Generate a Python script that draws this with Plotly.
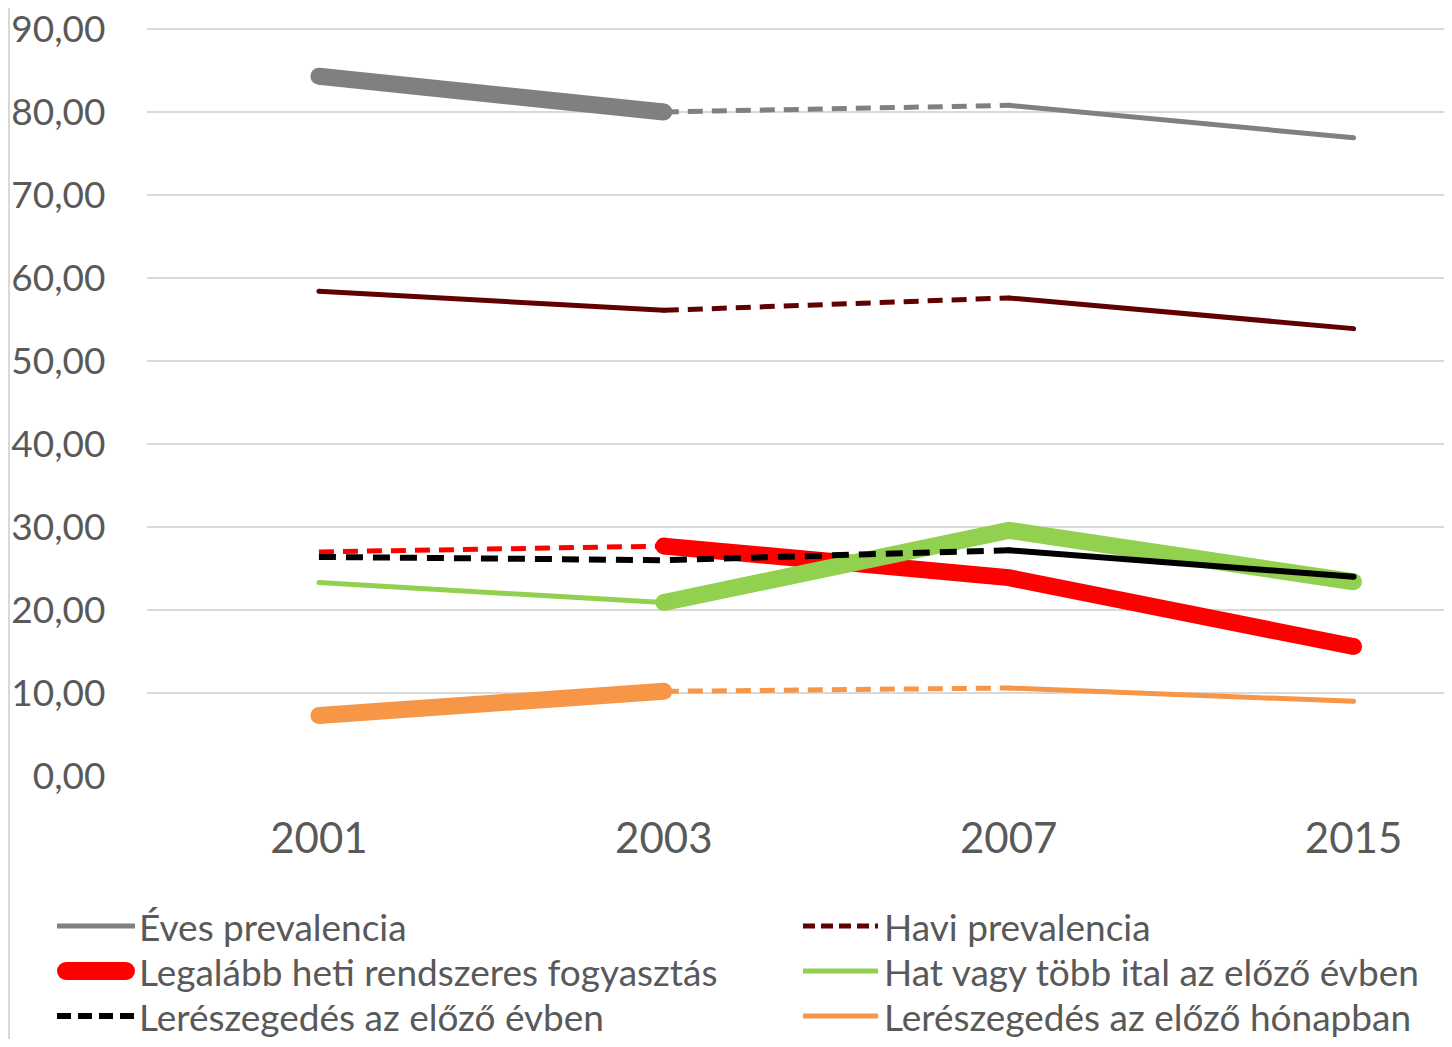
import plotly.graph_objects as go

# ── Data ─────────────────────────────────────────────────────────────────────
years = ["2001", "2003", "2007", "2015"]

eves_prevalencia = [84.3, 80.0, 80.8, 76.9]
havi_prevalencia = [58.4, 56.1, 57.6, 53.9]
heti_rendszeres = [27.0, 27.7, 23.9, 15.6]
hat_vagy_tobb = [23.3, 20.9, 29.6, 23.4]
lereszegedes_ev = [26.4, 26.0, 27.2, 24.0]
lereszegedes_honap = [7.3, 10.2, 10.6, 9.0]

series_names = [
    "Éves prevalencia",
    "Havi prevalencia",
    "Legalább heti rendszeres fogyasztás",
    "Hat vagy több ital az előző évben",
    "Lerészegedés az előző évben",
    "Lerészegedés az előző hónapban",
]
series_values = [eves_prevalencia, havi_prevalencia, heti_rendszeres,
                 hat_vagy_tobb, lereszegedes_ev, lereszegedes_honap]
y_ticks = list(range(0, 91, 10))

# ── Styles ───────────────────────────────────────────────────────────────────
COLORS = ["#808080", "#600000", "#FF0000", "#92D050", "#000000", "#F79646"]
THIN, THICK = 5, 17
DASH = "15px,9px"
DASH_B = "17px,10px"

# per-series style of each segment (2001-03, 2003-07, 2007-15)
SEG_STYLES = [
    [(THICK, "solid"), (THIN, DASH), (THIN, "solid")],
    [(THIN, "solid"), (THIN, DASH), (THIN, "solid")],
    [(THIN, DASH), (THICK, "solid"), (THICK, "solid")],
    [(THIN, "solid"), (THICK, "solid"), (THICK, "solid")],
    [(6, DASH_B), (6, DASH_B), (6, "solid")],
    [(THICK, "solid"), (THIN, DASH), (THIN, "solid")],
]
# legend sample: (width, dash)
LEG_STYLES = [(THIN, "solid"), (THIN, "12px,6px"), (18, "solid"),
              (THIN, "solid"), (6, "14px,7px"), (THIN, "solid")]

TXT = "#595959"
FONT = "Lato"

# page body adds an 8px offset; size the figure to fit inside the window
OFF = 8
FW, FH = 1452 - 2 * OFF, 1047 - 2 * OFF


def px(x):
    return (x - OFF) / FW


def py(y):
    return 1 - (y - OFF) / FH


fig = go.Figure()
xs = list(range(len(years)))

for name, vals, col, segs in zip(series_names, series_values, COLORS, SEG_STYLES):
    # merge consecutive segments with the same style into runs
    runs = []
    for i, st in enumerate(segs):
        if runs and runs[-1][0] == st:
            runs[-1][2] = i + 1
        else:
            runs.append([st, i, i + 1])
    for (w, dash), a, b in runs:
        fig.add_trace(go.Scatter(
            x=xs[a:b + 1], y=vals[a:b + 1], mode="lines",
            line=dict(color=col, width=w, dash=dash),
            showlegend=False, name=name, hoverinfo="skip",
        ))
        if dash == "solid":
            # round line caps
            fig.add_trace(go.Scatter(
                x=[xs[a], xs[b]], y=[vals[a], vals[b]], mode="markers",
                marker=dict(color=col, size=w, line=dict(width=0)),
                showlegend=False, hoverinfo="skip",
            ))

# ── Manual legend (2 columns x 3 rows) ───────────────────────────────────────
row_y = [926, 971, 1016]
col_x = [(57, 135, 137), (803, 878, 882)]
shapes, annots = [], []
for k, (name, col, (w, dash)) in enumerate(zip(series_names, COLORS, LEG_STYLES)):
    r, c = divmod(k, 2)
    x0, x1, tx = col_x[c]
    yp = py(row_y[r])
    cap = w / 2 if w > 10 else 0
    shapes.append(dict(type="line", xref="paper", yref="paper",
                       x0=px(x0 + cap), x1=px(x1 - cap), y0=yp, y1=yp,
                       line=dict(color=col, width=w, dash=dash)))
    if cap:
        for cx in (x0 + cap, x1 - cap):
            shapes.append(dict(type="circle", xref="paper", yref="paper",
                               x0=px(cx - cap), x1=px(cx + cap),
                               y0=py(row_y[r] + cap), y1=py(row_y[r] - cap),
                               fillcolor=col, line=dict(width=0)))
    annots.append(dict(text=name, xref="paper", yref="paper", x=px(tx), y=yp,
                       xanchor="left", yanchor="middle", showarrow=False,
                       font=dict(family=FONT, size=37, color=TXT)))

# chart border on the left edge
shapes.append(dict(type="line", xref="paper", yref="paper", x0=0.0007, x1=0.0007,
                   y0=0, y1=1, line=dict(color="#D9D9D9", width=2)))

x_lo = -0.5
x_hi = 3 + (1452 - 1361) / 347
# y: 0 at 776px, 90 at 29px; extend the top a little so the 90 grid line stays
Y_TOP = 92
y_top_px = 776 - Y_TOP * (776 - 29) / 90

fig.update_layout(
    width=FW, height=FH,
    margin=dict(l=0, r=0, t=0, b=0),
    paper_bgcolor="white", plot_bgcolor="white",
    separators=", ",
    showlegend=False,
    xaxis=dict(domain=[px(146.5), 1], range=[x_lo, x_hi], automargin=False,
               tickmode="array", tickvals=xs, ticktext=years,
               showgrid=False, zeroline=False, showline=False,
               ticks="", ticklabelstandoff=34,
               tickfont=dict(family=FONT, size=42, color=TXT)),
    yaxis=dict(domain=[py(776), py(y_top_px)], range=[0, Y_TOP], automargin=False,
               tickmode="array", tickvals=y_ticks, ticklabeloverflow="allow",
               tickformat=".2f", showgrid=True, gridcolor="#D9D9D9", gridwidth=2,
               zeroline=False, showline=False, ticks="", ticklabelstandoff=40,
               tickfont=dict(family=FONT, size=37, color=TXT)),
    shapes=shapes, annotations=annots,
)

fig.write_html("out.html")
